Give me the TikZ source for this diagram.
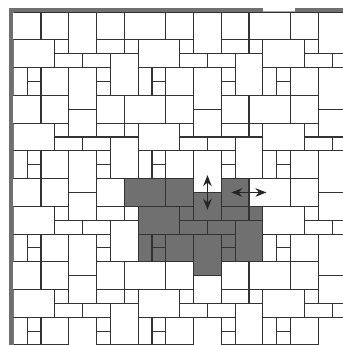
\documentclass[tikz,border=0pt]{standalone}
\usepackage{tikz}
\usepackage{xcolor}
\usetikzlibrary{arrows.meta}

\definecolor{slab}{RGB}{112,112,112}
\definecolor{rim}{RGB}{112,112,112}

\begin{document}
\begin{tikzpicture}[x=0.4cm, y=-0.4cm, >={Stealth[length=9pt, width=7pt]},
  joint/.style={draw=black!80, line width=0.9pt},
  shaded/.style={draw=black!80, line width=0.9pt, fill=slab}]

  % --- Όρια σχεδίου (σε μονάδες πλακιδίου) ---
  \def\xmax{23.77}
  \def\ymax{24}

  \useasboundingbox (-0.96,-0.88) rectangle (\xmax,\ymax);

  \begin{scope}
    \clip (0,0) rectangle (\xmax,\ymax);

    % ============================================================
    % Μοτίβο 9 x 6, επαναλαμβανόμενο
    % ============================================================
    \foreach \i in {0,9,18} {
      \foreach \j in {0,6,12,18} {
        \foreach \ca/\ra/\cb/\rb in {-1/0/2/2, 0/2/3/4, 2/0/4/2, 3/2/4/3,
            3/3/5/4, 5/3/7/4, 4/4/6/7, 0/4/1/6, 1/4/2/5, 1/5/2/6, 7/3/9/6,
            2/4/4/6, 6/4/7/5, 6/5/7/6, 6/0/8/2, 6/2/8/3, 8/2/9/3}
          \draw[joint] (\ca+\i,\ra+\j) rectangle (\cb+\i,\rb+\j);
      }
      % 2x2 κάτω από τη μακριά πλάκα
      \foreach \j in {6,12,18}
        \draw[joint] (4+\i,1+\j) rectangle (6+\i,3+\j);
      % πάνω σειρά: κομμένη πλάκα ως ένα κομμάτι
      \draw[joint] (4+\i,0) rectangle (6+\i,3);
    }

    % ============================================================
    % Σκούρες πλάκες
    % ============================================================
    \foreach \ca/\ra/\cb/\rb in {8/12/11/14, 11/12/13/14, 15/12/17/14,
        13/13/15/15, 9/14/12/16, 12/14/13/15, 12/15/14/16, 14/15/16/16,
        15/14/17/15, 17/14/18/15, 9/16/10/18, 10/16/11/17, 10/17/11/18,
        11/16/13/18, 13/16/15/19, 15/16/16/17, 15/17/16/18, 16/15/18/18}
      \draw[shaded] (\ca,\ra) rectangle (\cb,\rb);
  \end{scope}

  % --- Πλαίσιο ---
  \fill[rim] (-0.29,-0.29) rectangle (0,\ymax);
  \fill[rim] (-0.29,-0.29) rectangle (18,0);
  \fill[rim] (20.3,-0.29) rectangle (\xmax,0);
  \fill[black!35] (18,-0.1) rectangle (20.3,0);

  % --- Βέλη ---
  \coordinate (vtop) at (14,11.75);
  \coordinate (vbot) at (14,14.25);
  \coordinate (hleft) at (15.72,13);
  \coordinate (hright) at (18.25,13);
  \draw[<->, line width=1.3pt, draw=black!85] (vtop) -- (vbot);
  \draw[<->, line width=1.3pt, draw=black!85] (hleft) -- (hright);

\end{tikzpicture}
\end{document}
